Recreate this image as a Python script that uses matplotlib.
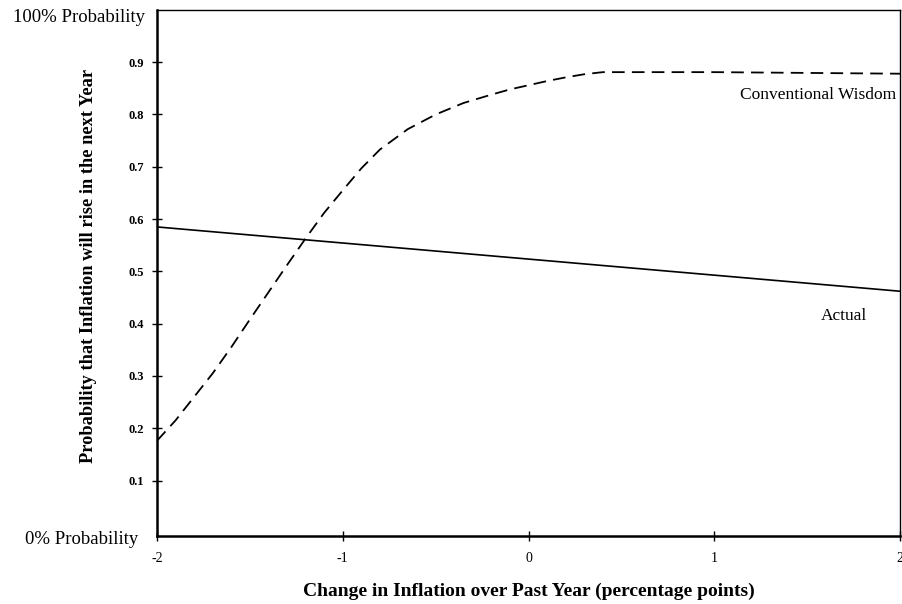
import matplotlib.pyplot as plt

plt.rcParams['font.family'] = ['Liberation Serif', 'DejaVu Serif']

# conventional wisdom curve (dashed)
cw_x = [-2.0, -1.9, -1.8, -1.7, -1.6, -1.5, -1.4, -1.3, -1.2, -1.1, -1.0,
        -0.9, -0.8, -0.65, -0.5, -0.35, -0.2, -0.1, 0.0, 0.1, 0.2, 0.3, 0.4, 1.0, 2.0]
cw_y = [0.176, 0.215, 0.26, 0.305, 0.355, 0.408, 0.46, 0.512, 0.563, 0.612, 0.655,
        0.697, 0.733, 0.772, 0.80, 0.822, 0.838, 0.848, 0.856, 0.864, 0.871, 0.877, 0.881, 0.881, 0.878]

# actual (straight line)
act_x = [-2.0, 2.0]
act_y = [0.585, 0.462]

x_ticks = [-2, -1, 0, 1, 2]
y_ticks = [0.1, 0.2, 0.3, 0.4, 0.5, 0.6, 0.7, 0.8, 0.9]

fig = plt.figure(figsize=(9.02, 6.04), dpi=100)
ax = fig.add_axes([0.174, 0.1126, 0.824, 0.871])

ax.plot(cw_x, cw_y, color='black', linestyle=(0, (7, 4)), linewidth=1.3)
ax.plot(act_x, act_y, color='black', linewidth=1.2)

ax.set_xlim(-2, 2)
ax.set_ylim(-0.006, 1.0)
ax.set_xticks(x_ticks)
ax.set_xticklabels([str(v) for v in x_ticks], fontsize=10)
ax.set_yticks(y_ticks)
ax.set_yticklabels(['%.1f' % v for v in y_ticks], fontsize=9, fontweight='bold')
ax.tick_params(direction='inout', length=7, width=1)
ax.tick_params(axis='y', pad=6)
ax.tick_params(axis='x', pad=8)

for s in ['left', 'bottom']:
    ax.spines[s].set_linewidth(1.8)
for s in ['top', 'right']:
    ax.spines[s].set_linewidth(1.0)

ax.text(-2.065, 0.986, '100% Probability', fontsize=13.5, ha='right', va='center')
ax.text(-2.1, -0.012, '0% Probability', fontsize=13.5, ha='right', va='center')

ax.text(1.98, 0.838, 'Conventional Wisdom', fontsize=12.5, ha='right', va='center')
ax.text(1.7, 0.415, 'Actual', fontsize=12.5, ha='center', va='center')

ax.set_xlabel('Change in Inflation over Past Year (percentage points)',
              fontsize=14, fontweight='bold', labelpad=13)
ax.set_ylabel('Probability that Inflation will rise in the next Year',
              fontsize=13.2, fontweight='bold')
ax.yaxis.set_label_coords(-0.081, 0.513)

fig.savefig('out.png', dpi=100)
